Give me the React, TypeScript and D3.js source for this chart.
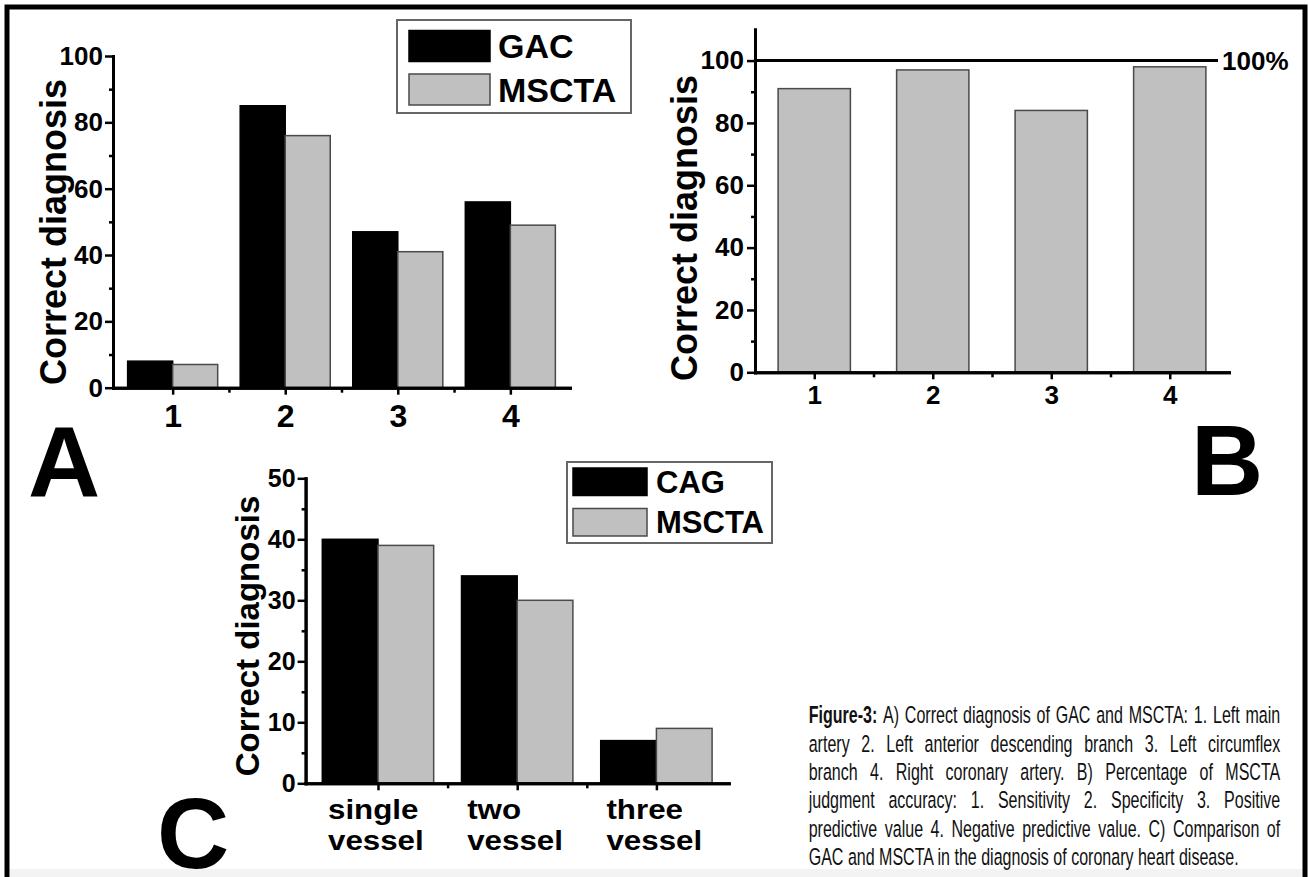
import React, { useEffect, useRef } from 'react';
import * as d3 from 'd3';

const W = 1309;
const H = 877;
const FONT = "'Liberation Sans', Arial, Helvetica, sans-serif";
const CAPTION_FONT = "'Liberation Sans Narrow', 'Liberation Sans', Arial, sans-serif";

// A) correct diagnosis per artery
const arteryLabels = ['1', '2', '3', '4'];
const gacA = [8, 85, 47, 56];
const msctaA = [7, 76, 41, 49];
const yTicksA = [0, 20, 40, 60, 80, 100];
const yMinorA = [10, 30, 50, 70, 90];
const legendA = ['GAC', 'MSCTA'];

// B) MSCTA judgment accuracy
const accuracyLabels = ['1', '2', '3', '4'];
const accuracyB = [91, 97, 84, 98];
const yTicksB = [0, 20, 40, 60, 80, 100];
const yMinorB = [10, 30, 50, 70, 90];
const referenceB = 100;

// C) diseased vessels
const vesselLabels = [['single', 'vessel'], ['two', 'vessel'], ['three', 'vessel']];
const cagC = [40, 34, 7];
const msctaC = [39, 30, 9];
const yTicksC = [0, 10, 20, 30, 40, 50];
const yMinorC = [5, 15, 25, 35, 45];
const legendC = ['CAG', 'MSCTA'];

const captionBold = 'Figure-3:';
const captionLines = [
  'A) Correct diagnosis of GAC and MSCTA: 1. Left main',
  'artery 2. Left anterior descending branch 3. Left circumflex',
  'branch 4. Right coronary artery. B) Percentage of MSCTA',
  'judgment accuracy: 1. Sensitivity 2. Specificity 3. Positive',
  'predictive value 4. Negative predictive value. C) Comparison of',
  'GAC and MSCTA in the diagnosis of coronary heart disease.',
];

const BLACK = '#000';
const GRAY = '#c0c0c0';
const GRAY_EDGE = '#4a4a4a';

function styleAxis(sel: any, fontSize: number) {
  sel.attr('font-family', FONT).attr('font-size', fontSize).attr('font-weight', 'bold');
  sel.select('.domain').attr('stroke', '#000').attr('stroke-width', 3).attr('stroke-linecap', 'square');
  sel.selectAll('.tick line').attr('stroke', '#000').attr('stroke-width', 2.5);
  sel.selectAll('.tick text').attr('fill', '#000');
}

function drawPanel(svg: any, p: any) {
  const x = d3.scaleLinear().domain(p.xDomain).range(p.xRange);
  const y = d3.scaleLinear().domain(p.yDomain).range(p.yRange);
  const g = svg.append('g');
  const step = x(2) - x(1);
  const bw = step * p.barFrac;
  const n = p.labels.length;

  // bars
  p.series.forEach((s: any, si: number) => {
    g.selectAll(null)
      .data(s.values)
      .enter()
      .append('rect')
      .attr('x', (d: number, i: number) => x(i + 1) + (si - p.series.length / 2) * bw)
      .attr('y', (d: number) => y(d))
      .attr('width', bw)
      .attr('height', (d: number) => y(0) - y(d))
      .attr('fill', s.fill)
      .attr('stroke', s.stroke)
      .attr('stroke-width', 1.5);
  });

  const x0 = p.xRange[0];

  // y axis, minor then major
  g.append('g')
    .attr('transform', `translate(${x0},0)`)
    .call(d3.axisLeft(y).tickValues(p.yMinor).tickSize(4).tickSizeOuter(0).tickFormat(() => ''))
    .call((s: any) => styleAxis(s, p.yFont));
  g.append('g')
    .attr('transform', `translate(${x0},0)`)
    .call(d3.axisLeft(y).tickValues(p.yTicks).tickSize(8).tickSizeOuter(0).tickPadding(p.yPad))
    .call((s: any) => styleAxis(s, p.yFont));

  // x axis, minor ticks halfway between categories
  const minorX = d3.range(1.5, n, 1);
  g.append('g')
    .attr('transform', `translate(0,${y(0)})`)
    .call(d3.axisBottom(x).tickValues(minorX).tickSize(5).tickSizeOuter(0).tickFormat(() => ''))
    .call((s: any) => styleAxis(s, p.xFont));
  const xa = g.append('g')
    .attr('transform', `translate(0,${y(0)})`)
    .call(
      d3.axisBottom(x)
        .tickValues(d3.range(1, n + 1))
        .tickSize(7)
        .tickSizeOuter(0)
        .tickPadding(p.xPad)
        .tickFormat((d: any) => (p.multiline ? '' : p.labels[d - 1]))
    )
    .call((s: any) => styleAxis(s, p.xFont));

  // two-line category names, left aligned as a block under each tick
  if (p.multiline) {
    p.labels.forEach((lines: string[], i: number) => {
      lines.forEach((line: string, j: number) => {
        xa.append('text')
          .attr('transform', `translate(${x(i + 1) + p.blockShift},${p.lineY[j]}) scale(${p.stretch},1)`)
          .attr('text-anchor', 'start')
          .attr('fill', '#000')
          .text(line);
      });
    });
  }

  // y title
  g.append('text')
    .attr('transform', `translate(${p.titleX},${p.titleY}) rotate(-90)`)
    .attr('text-anchor', 'middle')
    .attr('font-family', FONT)
    .attr('font-weight', 'bold')
    .attr('font-size', p.titleSize)
    .attr('fill', '#000')
    .text('Correct diagnosis');

  return { g, x, y };
}

function drawLegend(g: any, l: any) {
  const lg = g.append('g').attr('font-family', FONT).attr('font-weight', 'bold').attr('font-size', l.font);
  lg.append('rect')
    .attr('x', l.x).attr('y', l.y).attr('width', l.w).attr('height', l.h)
    .attr('fill', '#fff').attr('stroke', '#666').attr('stroke-width', 2);
  l.names.forEach((name: string, i: number) => {
    lg.append('rect')
      .attr('x', l.sx).attr('y', l.rows[i]).attr('width', l.sw).attr('height', l.sh)
      .attr('fill', i === 0 ? BLACK : GRAY)
      .attr('stroke', i === 0 ? BLACK : GRAY_EDGE)
      .attr('stroke-width', 1.5);
    lg.append('text')
      .attr('x', l.tx).attr('y', l.rows[i] + l.sh / 2)
      .attr('dy', '0.36em')
      .attr('fill', '#000')
      .text(name);
  });
}

function panelLetter(svg: any, letter: string, x: number, y: number) {
  svg.append('text')
    .attr('x', x).attr('y', y)
    .attr('font-family', FONT).attr('font-weight', 'bold').attr('font-size', 100)
    .attr('fill', '#000')
    .text(letter);
}

const App = () => {
  const svgRef = useRef<SVGSVGElement>(null);

  useEffect(() => {
    const svg = d3.select(svgRef.current);
    svg.selectAll('*').remove();

    svg.append('rect').attr('width', W).attr('height', H).attr('fill', '#fff');
    svg.append('rect').attr('x', 10).attr('y', 869).attr('width', 1292).attr('height', 8).attr('fill', '#f3f3f3');

    // Panel A
    const A = drawPanel(svg, {
      xDomain: [0.47, 4.53], xRange: [113, 570],
      yDomain: [0, 100], yRange: [387.7, 56],
      labels: arteryLabels, barFrac: 0.4,
      series: [
        { values: gacA, fill: BLACK, stroke: BLACK },
        { values: msctaA, fill: GRAY, stroke: GRAY_EDGE },
      ],
      yTicks: yTicksA, yMinor: yMinorA, yFont: 26, yPad: 2,
      xFont: 32, xPad: 10,
      titleX: 66, titleY: 232, titleSize: 36,
    });
    drawLegend(A.g, {
      x: 397, y: 20, w: 234, h: 93, font: 34, names: legendA,
      sx: 409, sw: 81, sh: 31, rows: [30.5, 74], tx: 498,
    });
    panelLetter(svg, 'A', 28, 497);

    // Panel B
    const B = drawPanel(svg, {
      xDomain: [0.5, 4.5], xRange: [755, 1229],
      yDomain: [0, 110], yRange: [372.3, 29.4],
      labels: accuracyLabels, barFrac: 0.61,
      series: [{ values: accuracyB, fill: GRAY, stroke: GRAY_EDGE }],
      yTicks: yTicksB, yMinor: yMinorB, yFont: 26, yPad: 3,
      xFont: 26, xPad: 6,
      titleX: 697, titleY: 228, titleSize: 36,
    });
    B.g.append('line')
      .attr('x1', 755).attr('x2', 1218)
      .attr('y1', B.y(referenceB)).attr('y2', B.y(referenceB))
      .attr('stroke', '#000').attr('stroke-width', 3);
    B.g.append('text')
      .attr('x', 1222).attr('y', B.y(referenceB)).attr('dy', '0.36em')
      .attr('font-family', FONT).attr('font-weight', 'bold').attr('font-size', 26)
      .attr('fill', '#000')
      .text(`${referenceB}%`);
    panelLetter(svg, 'B', 1191, 495);

    // Panel C
    const C = drawPanel(svg, {
      xDomain: [0.48, 3.52], xRange: [305.6, 728.8],
      yDomain: [0, 50], yRange: [783.3, 478.3],
      labels: vesselLabels, multiline: true, lineY: [36, 67], blockShift: -50, stretch: 1.16,
      barFrac: 0.4,
      series: [
        { values: cagC, fill: BLACK, stroke: BLACK },
        { values: msctaC, fill: GRAY, stroke: GRAY_EDGE },
      ],
      yTicks: yTicksC, yMinor: yMinorC, yFont: 25, yPad: 2,
      xFont: 27, xPad: 6,
      titleX: 259, titleY: 636, titleSize: 33,
    });
    drawLegend(C.g, {
      x: 567, y: 462, w: 205, h: 81, font: 31, names: legendC,
      sx: 573, sw: 74, sh: 27.5, rows: [468, 508.5], tx: 656,
    });
    panelLetter(svg, 'C', 157, 868);

    // caption, justified like the journal block
    const capLeft = 808.7;
    const capWidth = 471.6;
    const lastWidth = 430;
    const cap = svg.append('g')
      .attr('font-family', CAPTION_FONT)
      .attr('font-size', 23.5)
      .attr('fill', '#111');
    const lineNodes = captionLines.map((line, i) => {
      const t = cap.append('text').attr('x', 0).attr('y', 723.3 + i * 28.35);
      if (i === 0) t.append('tspan').attr('font-weight', 'bold').text(captionBold + ' ');
      t.append('tspan').text(line);
      return t;
    });
    const widths = lineNodes.map((t) => (t.node() as SVGTextElement).getComputedTextLength());
    const last = widths.length - 1;
    const k = lastWidth / widths[last];
    cap.attr('transform', `translate(${capLeft},0) scale(${k},1)`);
    lineNodes.forEach((t, i) => {
      if (i === last) return;
      const full = (i === 0 ? captionBold + ' ' : '') + captionLines[i];
      const spaces = (full.match(/ /g) || []).length;
      const extra = (capWidth / k - widths[i]) / spaces;
      if (extra >= 0) t.attr('word-spacing', extra);
      else t.attr('textLength', capWidth / k).attr('lengthAdjust', 'spacingAndGlyphs');
    });

    // frame (bottom edge runs off the page)
    svg.append('rect')
      .attr('x', 7).attr('y', 7).attr('width', 1298).attr('height', 930)
      .attr('fill', 'none').attr('stroke', '#000').attr('stroke-width', 5);
  }, []);

  return (
    <svg
      ref={svgRef}
      width={W}
      height={H}
      style={{ position: 'absolute', left: 0, top: 0, display: 'block' }}
    />
  );
};

export default App;
